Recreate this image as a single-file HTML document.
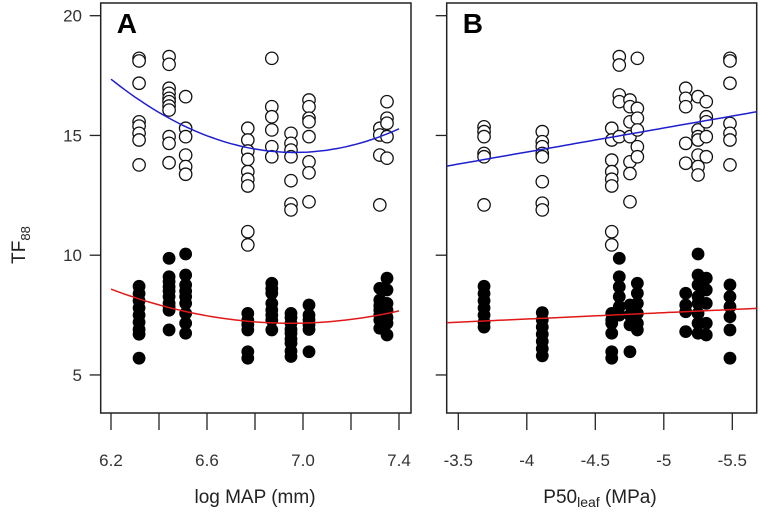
<!DOCTYPE html>
<html><head><meta charset="utf-8"><style>
body{margin:0;background:#fff;position:relative;}
svg{display:block;font-family:"Liberation Sans",Arial,sans-serif;}
</style></head><body>
<svg id="chart" width="760" height="520" viewBox="0 0 760 520"></svg>
<script>
// ---- Data ----
const yTicks=[5,10,15,20];
const xTicksA=[6.2,6.4,6.6,6.8,7.0,7.2,7.4];
const xLabelsA=["6.2","","6.6","","7.0","","7.4"];
const xTicksB=[-3.5,-4,-4.5,-5,-5.5];
const xLabelsB=["-3.5","-4","-4.5","-5","-5.5"];
const colsA=[6.317,6.442,6.511,6.770,6.870,6.95,7.025,7.32,7.35];
const openA=[
[18.22,18.11,17.18,15.57,15.39,15.09,14.81,13.77],
[18.29,17.97,16.97,16.76,16.55,16.41,16.23,16.06,14.95,14.67,13.86],
[16.62,15.30,14.95,14.18,13.70,13.38],
[15.30,14.81,14.35,14.0,13.49,13.17,12.89,10.98,10.43],
[18.22,16.2,15.78,15.23,14.53,14.11],
[15.09,14.67,14.39,14.11,13.11,12.14,11.89],
[16.48,16.2,15.72,15.57,14.95,13.9,13.44,12.23],
[15.30,15.02,14.18,12.1],
[16.41,15.72,15.51,14.95,14.05]];
const filledA=[
[8.7,8.4,8.1,7.8,7.5,7.2,6.9,6.7,5.7],
[9.87,9.1,8.9,8.68,8.5,8.27,8.0,7.85,7.7,6.88],
[10.05,9.17,8.76,8.5,8.27,7.99,7.57,7.16,6.74],
[7.57,7.29,7.1,6.88,5.97,5.70],
[8.83,8.6,8.41,7.99,7.71,7.5,7.29,6.88],
[7.57,7.4,7.16,6.9,6.74,6.5,6.33,6.0,5.77],
[7.92,7.5,7.3,7.09,6.9,5.97],
[8.62,8.13,7.9,7.71,7.5,7.29,6.95],
[9.04,8.55,7.99,7.7,7.4,7.16,6.67]];
const colsB=[-3.688,-4.113,-4.62,-4.675,-4.753,-4.807,-5.16,-5.25,-5.31,-5.483];
const openB=[
[15.36,15.16,14.95,14.25,14.11,12.1],
[15.16,14.74,14.53,14.25,14.11,13.07,12.17,11.89],
[15.30,14.81,13.97,13.49,13.17,12.89,10.98,10.43],
[18.29,17.94,16.69,16.41,14.95],
[16.48,16.2,15.57,14.95,13.9,13.41,12.23],
[18.22,16.13,15.72,15.23,14.53,14.11],
[16.97,16.55,16.2,14.67,13.84],
[16.62,15.23,14.95,14.81,14.18,13.70,13.35],
[16.41,15.78,15.57,14.95,14.11],
[18.22,18.11,17.18,15.5,15.09,14.81,13.77]];
const filledB=[
[8.7,8.4,8.1,7.8,7.5,7.2,7.0],
[7.6,7.3,7.0,6.7,6.4,6.1,5.8],
[7.57,7.3,7.16,6.74,5.97,5.70],
[9.87,9.1,8.68,8.27,7.85,7.5],
[7.92,7.5,7.09,5.97],
[8.83,8.41,7.99,7.57,7.16,6.88],
[8.41,7.92,7.64,6.81],
[10.05,9.17,8.76,8.27,7.99,7.57,7.16,6.74],
[9.04,8.55,7.99,7.16,6.67],
[8.76,8.27,7.85,7.43,6.88,5.70]];
// quadratic fits A: [a, h, k] => k + a(x-h)^2
const blueFitA=[5.23,6.965,14.29];
const redFitA=[2.53,6.95,7.16];
// linear fits B: [intercept, slope]
const blueFitB=[10.295,-1.003];
const redFitB=[6.275,-0.265];

{
const NS="http://www.w3.org/2000/svg";
const svg=document.getElementById('chart');
function el(t,a,p){const e=document.createElementNS(NS,t);for(const k in a)e.setAttribute(k,a[k]);(p||svg).appendChild(e);return e;}
const Y=v=>15.7+(20-v)*23.95;
const XA=v=>111+(v-6.2)*240;
const XB=v=>458.3+(-3.5-v)*137;
const plotTop=3,plotBot=413;

function panel(name,x0,x1,X,ticks,labels,cols,open,filled,letter){
  const g=el('g',{});
  
  
  const box=el('rect',{x:x0,y:plotTop,width:x1-x0,height:plotBot-plotTop,fill:'none',stroke:'#222','stroke-width':1.5},g);
  
  
  ticks.forEach((t,i)=>{
    const l=el('line',{x1:X(t),x2:X(t),y1:plotBot,y2:430,stroke:'#222','stroke-width':1.3},g);
    
    
    if(labels[i]){const tx=el('text',{x:X(t),y:466,'text-anchor':'middle','font-size':17,fill:'#333'},g);tx.textContent=labels[i];
      
      }
  });
  yTicks.forEach(t=>{
    const l=el('line',{x1:x0-11,x2:x0,y1:Y(t),y2:Y(t),stroke:'#222','stroke-width':1.3},g);
    
    
  });
  const lt=el('text',{x:x0+16,y:33,'font-size':28,'font-weight':'bold',fill:'#000'},g);lt.textContent=letter;
  
  
  cols.forEach((c,i)=>{
    open[i].forEach(v=>{const p=el('circle',{cx:X(c),cy:Y(v),r:6.2,fill:'#fff',stroke:'#111','stroke-width':1.3},g);
      
      });
    filled[i].forEach(v=>{const p=el('circle',{cx:X(c),cy:Y(v),r:6.4,fill:'#000'},g);
      
      });
  });
  return g;
}
function curve(g,X,xmin,xmax,f,color,name){
  let d='';for(let i=0;i<=60;i++){const v=xmin+(xmax-xmin)*i/60;d+=(i?'L':'M')+X(v).toFixed(1)+','+Y(f(v)).toFixed(1);}
  const p=el('path',{d:d,fill:'none',stroke:color,'stroke-width':1.5},g);
  
  
}
const gA=panel('panel-a',100.7,411,XA,xTicksA,xLabelsA,colsA,openA,filledA,'A');
curve(gA,XA,6.2,7.4,v=>blueFitA[2]+blueFitA[0]*(v-blueFitA[1])**2,'#1f1fd0','blue-fit-a');
curve(gA,XA,6.2,7.4,v=>redFitA[2]+redFitA[0]*(v-redFitA[1])**2,'#e01818','red-fit-a');
const gB=panel('panel-b',446.7,756.7,XB,xTicksB,xLabelsB,colsB,openB,filledB,'B');
curve(gB,XB,-3.415,-5.678,v=>blueFitB[0]+blueFitB[1]*v,'#1f1fd0','blue-fit-b');
curve(gB,XB,-3.415,-5.678,v=>redFitB[0]+redFitB[1]*v,'#e01818','red-fit-b');
yTicks.forEach(t=>{const tx=el('text',{x:82,y:Y(t)+6,'text-anchor':'end','font-size':17,fill:'#333'});tx.textContent=t;
  
  });
}
</script>
<svg style="position:absolute;left:0;top:0" width="760" height="520">
<text x="25" y="245" transform="rotate(-90 25 245)" text-anchor="middle" font-size="19" fill="#222" font-family="Liberation Sans, sans-serif">TF<tspan font-size="13" dy="5">88</tspan></text>
<text x="255" y="503" text-anchor="middle" font-size="19" fill="#222" font-family="Liberation Sans, sans-serif">log MAP (mm)</text>
<text x="600" y="503" text-anchor="middle" font-size="19" fill="#222" font-family="Liberation Sans, sans-serif">P50<tspan font-size="14" dy="4">leaf</tspan><tspan dy="-4"> (MPa)</tspan></text>
</svg>
</body></html>
